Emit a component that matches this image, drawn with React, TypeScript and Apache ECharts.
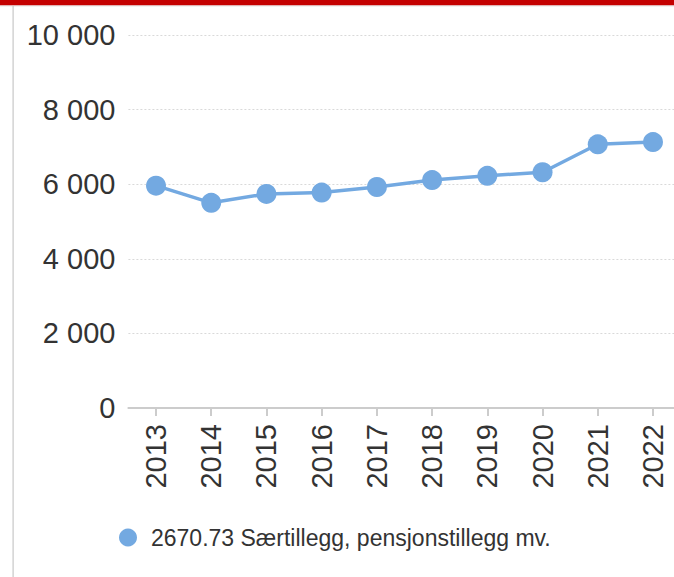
import React, { useEffect, useRef } from "react";
import * as echarts from "echarts";

const years = ["2013", "2014", "2015", "2016", "2017", "2018", "2019", "2020", "2021", "2022"];
const values = [5960, 5500, 5740, 5775, 5925, 6110, 6225, 6320, 7070, 7130];
const seriesName = "2670.73 Særtillegg, pensjonstillegg mv.";
const yMin = 0;
const yMax = 10000;
const yInterval = 2000;

const fmt = (v: number) => String(v).replace(/\B(?=(\d{3})+(?!\d))/g, " ");

export default function App() {
  const ref = useRef<HTMLDivElement>(null);
  useEffect(() => {
    if (!ref.current) return;
    const chart = echarts.init(ref.current, null, { renderer: "svg" });
    const font = "'Liberation Sans', Arial, sans-serif";
    chart.setOption({
      animation: false,
      textStyle: { fontFamily: font },
      graphic: [
        { type: "rect", left: 0, top: 0, shape: { width: 700, height: 5.5 }, style: { fill: "#c40000" }, z: 10 },
        { type: "rect", left: 0, top: 5.5, shape: { width: 700, height: 1 }, style: { fill: "#e6e6e6" }, z: 10 },
        { type: "rect", left: 12.5, top: 6, shape: { width: 1.2, height: 571 }, style: { fill: "#c8c8c8" }, z: 10 },
      ],
      grid: { left: 128.4, right: 19.4, top: 35, bottom: 169, containLabel: false },
      xAxis: {
        type: "category",
        data: years,
        boundaryGap: true,
        axisLine: { show: true, lineStyle: { color: "#cccccc", width: 2 } },
        axisTick: { show: true, alignWithLabel: true, length: 8, lineStyle: { color: "#cccccc", width: 2 } },
        axisLabel: { rotate: 90, margin: 16, fontSize: 29, color: "#333333", fontFamily: font },
      },
      yAxis: {
        type: "value",
        min: yMin,
        max: yMax,
        interval: yInterval,
        axisLine: { show: false },
        axisTick: { show: false },
        axisLabel: { margin: 13, fontSize: 29, color: "#333333", fontFamily: font, formatter: (v: number) => fmt(v) },
        splitLine: { show: true, lineStyle: { color: "#d9d9d9", type: [2, 2], width: 1 } },
      },
      legend: {
        show: true,
        left: 114,
        top: 521,
        icon: "circle",
        itemWidth: 18,
        itemHeight: 18,
        textStyle: { fontSize: 23, color: "#333333", fontFamily: font, padding: [0, 0, 0, 9] },
        data: [seriesName],
      },
      series: [
        {
          name: seriesName,
          type: "line",
          data: values,
          symbol: "circle",
          symbolSize: 20,
          itemStyle: { color: "#73a9e1" },
          lineStyle: { color: "#73a9e1", width: 3.5 },
        },
      ],
    });
    return () => chart.dispose();
  }, []);
  return (
    <div style={{ position: "fixed", left: 0, top: 0, width: 674, height: 577, overflow: "hidden", background: "#fff" }}>
      <div ref={ref} style={{ width: 700, height: 577 }} />
    </div>
  );
}
